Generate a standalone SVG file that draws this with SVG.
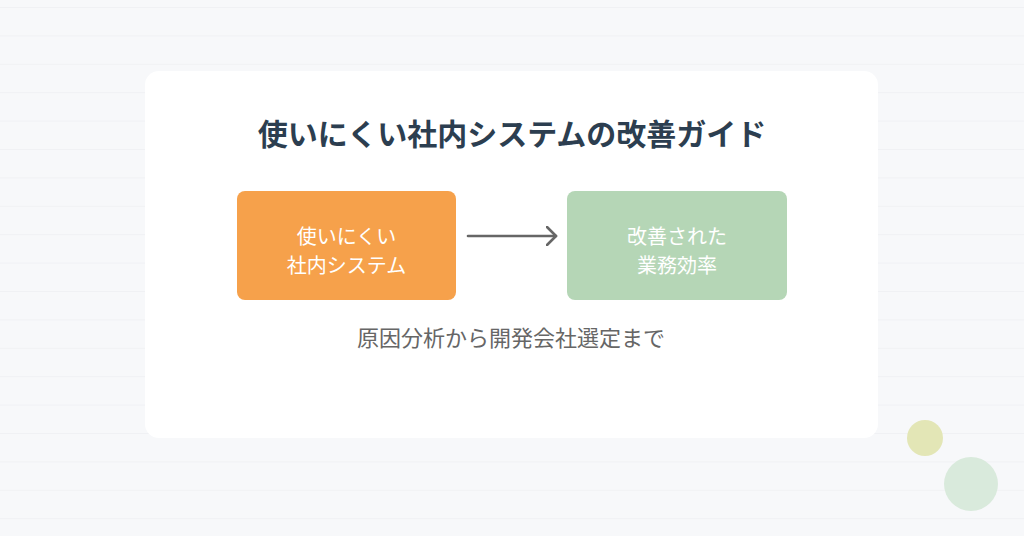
<svg xmlns="http://www.w3.org/2000/svg" width="1024" height="536" viewBox="0 0 1024 536">
<defs>
<pattern id="stripes" x="0" y="7" width="1024" height="28.4" patternUnits="userSpaceOnUse">
<rect x="0" y="0" width="1024" height="1" fill="#f0f1f4"/>
</pattern>
<marker id="arrow" viewBox="0 0 12 20" refX="10" refY="10" markerWidth="12" markerHeight="20" markerUnits="userSpaceOnUse" orient="auto">
<path d="M1,1 L10,10 L1,19" fill="none" stroke="#666666" stroke-width="2.6" stroke-linecap="round" stroke-linejoin="round"/>
</marker>
<style>
text{font-family:"Noto Sans CJK JP","Noto Sans",sans-serif;text-anchor:middle}
.title{font-size:30px;font-weight:700;fill:#2c3e50}
.lbl{font-size:20px;fill:#ffffff}
.sub{font-size:22px;fill:#666666}
</style>
</defs>
<rect width="1024" height="536" fill="#f7f8fa"/>
<rect width="1024" height="536" fill="url(#stripes)"/>
<g id="card">
<rect x="145" y="71" width="733" height="367" rx="14" fill="#ffffff"/>
</g>
<g id="title">
<text class="title" x="512" y="145">使いにくい社内システムの改善ガイド</text>
</g>
<g id="node-before">
<rect x="237" y="191" width="219" height="109" rx="8" fill="#f6a14b"/>
<text class="lbl" x="346.5" y="244">使いにくい</text>
<text class="lbl" x="346.5" y="273">社内システム</text>
</g>
<g id="node-after">
<rect x="567" y="191" width="220" height="109" rx="8" fill="#b5d6b6"/>
<text class="lbl" x="677" y="244" fill="#f4f8f2">改善された</text>
<text class="lbl" x="677" y="273" fill="#f4f8f2">業務効率</text>
</g>
<g id="connectors">
<line x1="468" y1="236" x2="556" y2="236" stroke="#666666" stroke-width="2.6" stroke-linecap="round" marker-end="url(#arrow)"/>
</g>
<g id="subtitle">
<text class="sub" x="511" y="346">原因分析から開発会社選定まで</text>
</g>
<g id="decor">
<circle cx="925" cy="438" r="18" fill="#e3e6b6"/>
<circle cx="971" cy="484" r="27" fill="#d9eadc"/>
</g>
</svg>
